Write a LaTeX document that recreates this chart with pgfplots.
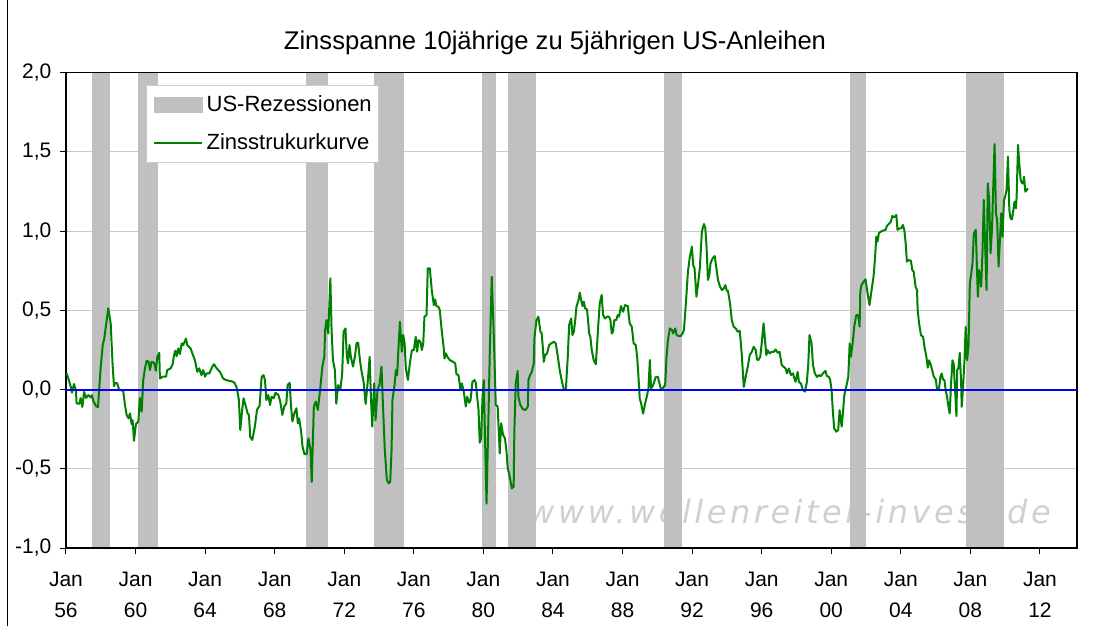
\documentclass[border=0pt]{standalone}
\usepackage{fontspec}
\setmainfont{Liberation Sans}
\newfontfamily\wmfont{DejaVu Sans}
\usepackage{pgfplots}
\pgfplotsset{compat=1.18}
\definecolor{recgray}{RGB}{192,192,192}
\definecolor{linegreen}{RGB}{0,128,0}
\definecolor{gridgray}{RGB}{200,200,200}
\definecolor{wmgray}{RGB}{208,208,208}
\begin{document}
\begin{tikzpicture}
\useasboundingbox (0,0) rectangle (549.5pt,-313pt);
\draw[line width=0.6pt] (3.6pt,0) -- (3.6pt,-313pt);
\node[font=\fontsize{12.8}{15}\selectfont, inner sep=0pt] at (277.5pt,-21.5pt) {Zinsspanne 10jährige zu 5jährigen US-Anleihen};
\node[anchor=base west, inner sep=0pt, text=wmgray, font=\wmfont\fontsize{16}{19}\selectfont\itshape\addfontfeature{LetterSpace=11}] at (264pt,-261.7pt) {www.wellenreiter-invest.de};
\begin{axis}[
  at={(33pt,-274pt)}, anchor=south west,
  scale only axis, width=505.5pt, height=237.65pt,
  xmin=1956, xmax=2014.13, ymin=-1, ymax=2,
  axis line style={line width=0.6pt},
  xtick={1956,1960,1964,1968,1972,1976,1980,1984,1988,1992,1996,2000,2004,2008,2012},
  xticklabels={{Jan\\56},{Jan\\60},{Jan\\64},{Jan\\68},{Jan\\72},{Jan\\76},{Jan\\80},{Jan\\84},{Jan\\88},{Jan\\92},{Jan\\96},{Jan\\00},{Jan\\04},{Jan\\08},{Jan\\12}},
  ytick={-1,-0.5,0,0.5,1,1.5,2},
  yticklabels={{-1,0},{-0,5},{0,0},{0,5},{1,0},{1,5},{2,0}},
  tick align=outside, major tick length=3pt,
  xtick pos=bottom, ytick pos=left,
  ymajorgrids, grid style={gridgray, line width=0.5pt},
  tick style={black, line width=0.5pt},
  xticklabel style={align=center, font=\fontsize{10.5}{15.6}\selectfont, yshift=-5.5pt},
  yticklabel style={font=\fontsize{10.5}{12}\selectfont, xshift=-0.8pt},
  legend cell align=left,
  legend style={at={(0.0791,0.974)}, anchor=north west, draw=black!20, fill=white,
    font=\fontsize{11}{13}\selectfont, inner xsep=3.35pt, inner ysep=5pt,
    row sep=9.7pt, column sep=1.8pt, nodes={inner sep=0pt}},
]
\addplot[fill=recgray, draw=none, legend image code/.code={\fill[recgray] (0pt,-3.9pt) rectangle (24.5pt,3.9pt);}]
  coordinates {(1957.49,-0.995)(1958.53,-0.995)(1958.53,1.995)(1957.49,1.995)} -- cycle;
\addlegendentry{US-Rezessionen}
\addplot[fill=recgray, draw=none, forget plot] coordinates {(1960.14,-0.995)(1961.27,-0.995)(1961.27,1.995)(1960.14,1.995)} -- cycle;
\addplot[fill=recgray, draw=none, forget plot] coordinates {(1969.80,-0.995)(1971.05,-0.995)(1971.05,1.995)(1969.80,1.995)} -- cycle;
\addplot[fill=recgray, draw=none, forget plot] coordinates {(1973.71,-0.995)(1975.43,-0.995)(1975.43,1.995)(1973.71,1.995)} -- cycle;
\addplot[fill=recgray, draw=none, forget plot] coordinates {(1979.92,-0.995)(1980.72,-0.995)(1980.72,1.995)(1979.92,1.995)} -- cycle;
\addplot[fill=recgray, draw=none, forget plot] coordinates {(1981.41,-0.995)(1983.02,-0.995)(1983.02,1.995)(1981.41,1.995)} -- cycle;
\addplot[fill=recgray, draw=none, forget plot] coordinates {(1990.38,-0.995)(1991.41,-0.995)(1991.41,1.995)(1990.38,1.995)} -- cycle;
\addplot[fill=recgray, draw=none, forget plot] coordinates {(2001.08,-0.995)(2002.00,-0.995)(2002.00,1.995)(2001.08,1.995)} -- cycle;
\addplot[fill=recgray, draw=none, forget plot] coordinates {(2007.76,-0.995)(2009.91,-0.995)(2009.91,1.995)(2007.76,1.995)} -- cycle;
\addplot[linegreen, line width=1pt, line join=round, legend image code/.code={\draw[linegreen, line width=1pt] (0pt,0pt) -- (24pt,0pt);}] table {
x y
1956.00 0.09
1956.05 0.10
1956.27 0.02
1956.34 -0.02
1956.46 0.035
1956.57 -0.005
1956.61 -0.087
1956.77 -0.09
1956.84 -0.053
1956.94 -0.11
1957.04 -0.014
1957.15 -0.053
1957.28 -0.035
1957.42 -0.05
1957.49 -0.035
1957.57 -0.07
1957.72 -0.104
1957.84 -0.11
1957.91 0.007
1957.99 0.134
1958.11 0.28
1958.20 0.322
1958.43 0.513
1958.57 0.418
1958.68 0.155
1958.76 0.022
1958.84 0.043
1958.95 0.039
1959.06 -0.003
1959.29 -0.007
1959.39 -0.098
1959.49 -0.161
1959.60 -0.182
1959.68 -0.15
1959.77 -0.218
1959.83 -0.193
1959.91 -0.323
1960.02 -0.218
1960.16 -0.203
1960.25 -0.053
1960.35 -0.14
1960.44 0.06
1960.54 0.134
1960.64 0.182
1960.75 0.176
1960.83 0.123
1960.92 0.176
1961.06 0.17
1961.17 0.119
1961.25 0.207
1961.36 0.232
1961.40 0.07
1961.56 0.081
1961.75 0.081
1961.82 0.123
1962.02 0.134
1962.13 0.16
1962.21 0.217
1962.29 0.245
1962.36 0.211
1962.46 0.26
1962.55 0.224
1962.65 0.291
1962.74 0.281
1962.90 0.322
1962.97 0.281
1963.16 0.26
1963.28 0.224
1963.41 0.186
1963.55 0.112
1963.66 0.134
1963.79 0.091
1963.89 0.123
1964.00 0.081
1964.08 0.102
1964.24 0.102
1964.31 0.119
1964.43 0.148
1964.51 0.16
1964.66 0.134
1964.85 0.112
1965.04 0.07
1965.20 0.06
1965.40 0.055
1965.60 0.05
1965.71 0.039
1965.83 0.007
1965.94 -0.066
1966.02 -0.255
1966.13 -0.128
1966.21 -0.055
1966.32 -0.097
1966.44 -0.15
1966.52 -0.16
1966.59 -0.297
1966.71 -0.318
1966.86 -0.234
1966.98 -0.128
1967.13 -0.103
1967.25 0.08
1967.36 0.091
1967.44 0.06
1967.52 -0.066
1967.63 -0.034
1967.73 -0.097
1967.82 -0.045
1967.94 -0.055
1968.05 -0.02
1968.21 -0.034
1968.32 -0.076
1968.44 -0.16
1968.55 -0.107
1968.67 -0.086
1968.74 0.028
1968.86 0.043
1968.94 -0.107
1969.02 -0.202
1969.13 -0.15
1969.25 -0.118
1969.33 -0.213
1969.40 -0.181
1969.52 -0.265
1969.60 -0.36
1969.71 -0.407
1969.84 -0.407
1969.94 -0.308
1970.06 -0.381
1970.13 -0.582
1970.25 -0.107
1970.36 -0.076
1970.48 -0.128
1970.61 -0.003
1970.74 0.145
1970.85 0.207
1970.90 0.376
1970.98 0.439
1971.08 0.355
1971.20 0.702
1971.27 0.376
1971.35 0.186
1971.46 0.123
1971.54 -0.088
1971.65 0.028
1971.77 -0.003
1971.88 0.102
1971.96 0.365
1972.07 0.386
1972.15 0.207
1972.22 0.165
1972.30 0.281
1972.38 0.207
1972.50 0.145
1972.61 0.207
1972.71 0.295
1972.80 0.295
1972.90 0.186
1973.00 0.112
1973.11 0.049
1973.23 -0.091
1973.34 0.039
1973.46 0.207
1973.53 -0.045
1973.61 -0.234
1973.72 0.039
1973.80 -0.192
1973.91 -0.003
1974.02 0.028
1974.14 0.145
1974.22 -0.088
1974.33 -0.381
1974.45 -0.571
1974.56 -0.592
1974.64 -0.582
1974.72 -0.381
1974.77 -0.066
1974.89 0.028
1974.97 0.123
1975.04 0.091
1975.12 0.27
1975.20 0.428
1975.31 0.239
1975.39 0.344
1975.47 0.291
1975.54 0.133
1975.66 0.06
1975.77 0.165
1975.89 0.249
1976.00 0.249
1976.11 0.333
1976.19 0.239
1976.27 0.312
1976.38 0.302
1976.46 0.249
1976.54 0.291
1976.61 0.46
1976.73 0.47
1976.80 0.765
1976.92 0.765
1977.03 0.628
1977.15 0.533
1977.22 0.569
1977.30 0.527
1977.41 0.523
1977.49 0.502
1977.60 0.376
1977.72 0.26
1977.76 0.196
1977.84 0.228
1977.95 0.203
1978.07 0.186
1978.26 0.175
1978.38 0.165
1978.45 0.097
1978.57 0.091
1978.68 -0.003
1978.76 0.039
1978.87 -0.013
1978.99 -0.107
1979.07 -0.045
1979.18 -0.083
1979.26 -0.066
1979.37 0.049
1979.49 0.06
1979.56 0.043
1979.64 -0.045
1979.72 -0.128
1979.79 -0.335
1979.87 -0.308
1979.95 -0.045
1980.02 0.06
1980.10 -0.34
1980.18 -0.72
1980.29 -0.17
1980.37 0.249
1980.48 0.712
1980.60 0.333
1980.71 -0.097
1980.82 -0.107
1980.94 -0.402
1981.02 -0.213
1981.13 -0.286
1981.24 -0.308
1981.32 -0.381
1981.40 -0.497
1981.47 -0.528
1981.55 -0.571
1981.63 -0.624
1981.74 -0.613
1981.78 -0.255
1981.86 0.039
1981.97 0.118
1982.01 -0.045
1982.12 -0.097
1982.28 -0.125
1982.43 -0.128
1982.55 -0.107
1982.59 0.06
1982.66 0.085
1982.78 0.112
1982.90 0.165
1982.93 0.323
1983.05 0.439
1983.16 0.46
1983.28 0.365
1983.35 0.355
1983.43 0.249
1983.47 0.175
1983.55 0.217
1983.66 0.228
1983.78 0.281
1983.89 0.291
1984.05 0.302
1984.16 0.291
1984.28 0.207
1984.39 0.12
1984.50 0.06
1984.62 0.0
1984.74 -0.003
1984.85 0.207
1984.93 0.407
1985.05 0.449
1985.12 0.344
1985.20 0.365
1985.28 0.439
1985.35 0.523
1985.47 0.565
1985.54 0.611
1985.62 0.565
1985.70 0.527
1985.77 0.555
1985.85 0.512
1985.96 0.506
1986.08 0.354
1986.15 0.333
1986.23 0.249
1986.34 0.186
1986.46 0.16
1986.53 0.27
1986.61 0.418
1986.69 0.544
1986.80 0.597
1986.88 0.47
1987.00 0.449
1987.11 0.46
1987.22 0.46
1987.30 0.439
1987.38 0.354
1987.45 0.365
1987.53 0.439
1987.64 0.439
1987.72 0.47
1987.80 0.46
1987.91 0.527
1988.03 0.491
1988.14 0.533
1988.30 0.527
1988.41 0.418
1988.53 0.397
1988.64 0.291
1988.76 0.281
1988.84 0.207
1988.91 0.091
1988.99 -0.057
1989.07 -0.088
1989.18 -0.152
1989.30 -0.088
1989.41 -0.036
1989.49 0.006
1989.57 0.186
1989.64 0.006
1989.76 0.028
1989.91 0.08
1990.03 0.08
1990.10 0.049
1990.22 -0.003
1990.34 0.013
1990.45 0.028
1990.53 0.207
1990.61 0.312
1990.72 0.386
1990.84 0.376
1990.91 0.354
1991.03 0.386
1991.11 0.344
1991.22 0.338
1991.34 0.338
1991.45 0.354
1991.53 0.376
1991.60 0.481
1991.68 0.607
1991.76 0.744
1991.87 0.839
1991.99 0.902
1992.06 0.786
1992.14 0.765
1992.25 0.586
1992.37 0.692
1992.45 0.776
1992.56 0.997
1992.68 1.045
1992.76 1.018
1992.83 0.902
1992.91 0.692
1992.99 0.723
1993.06 0.797
1993.18 0.829
1993.30 0.843
1993.37 0.786
1993.49 0.692
1993.60 0.65
1993.72 0.628
1993.83 0.639
1993.91 0.66
1993.99 0.624
1994.06 0.624
1994.18 0.544
1994.28 0.439
1994.39 0.397
1994.51 0.386
1994.62 0.365
1994.74 0.371
1994.85 0.228
1994.97 0.017
1995.08 0.08
1995.20 0.144
1995.31 0.217
1995.43 0.238
1995.54 0.27
1995.66 0.249
1995.73 0.19
1995.81 0.186
1995.92 0.207
1996.00 0.291
1996.11 0.418
1996.19 0.312
1996.27 0.217
1996.34 0.249
1996.46 0.228
1996.57 0.238
1996.69 0.238
1996.80 0.253
1996.92 0.232
1997.03 0.238
1997.15 0.155
1997.26 0.144
1997.38 0.133
1997.45 0.102
1997.57 0.133
1997.68 0.091
1997.80 0.102
1997.88 0.07
1997.95 0.049
1998.07 0.112
1998.14 0.049
1998.26 0.038
1998.37 -0.003
1998.49 -0.013
1998.60 0.049
1998.68 0.165
1998.75 0.344
1998.87 0.291
1998.95 0.155
1999.06 0.102
1999.18 0.08
1999.29 0.091
1999.41 0.085
1999.52 0.102
1999.67 0.118
1999.75 0.085
1999.87 0.08
1999.94 0.059
2000.02 -0.003
2000.10 -0.15
2000.17 -0.245
2000.29 -0.266
2000.40 -0.255
2000.48 -0.13
2000.60 -0.234
2000.67 -0.15
2000.75 -0.036
2000.86 0.017
2000.98 0.08
2001.06 0.291
2001.13 0.207
2001.25 0.312
2001.32 0.397
2001.44 0.47
2001.55 0.47
2001.63 0.397
2001.67 0.618
2001.74 0.66
2001.86 0.681
2001.97 0.696
2002.09 0.607
2002.20 0.533
2002.32 0.628
2002.43 0.713
2002.51 0.818
2002.59 0.966
2002.66 0.934
2002.74 0.987
2002.85 0.997
2002.97 1.003
2003.12 1.008
2003.20 1.033
2003.31 1.045
2003.43 1.06
2003.51 1.096
2003.62 1.087
2003.74 1.102
2003.81 1.008
2003.93 1.018
2004.03 1.018
2004.12 1.039
2004.20 1.008
2004.28 0.923
2004.35 0.807
2004.43 0.818
2004.58 0.813
2004.66 0.754
2004.74 0.744
2004.85 0.649
2004.93 0.628
2004.97 0.502
2005.05 0.417
2005.16 0.343
2005.28 0.333
2005.36 0.27
2005.47 0.207
2005.55 0.139
2005.62 0.185
2005.70 0.164
2005.78 0.133
2005.89 0.084
2006.01 0.063
2006.08 0.006
2006.20 0.006
2006.28 0.084
2006.35 0.101
2006.43 0.063
2006.51 0.059
2006.58 -0.004
2006.66 -0.046
2006.74 -0.109
2006.81 -0.151
2006.89 0.038
2006.97 0.185
2007.04 0.164
2007.12 -0.004
2007.20 -0.168
2007.24 0.122
2007.31 0.133
2007.39 0.232
2007.47 0.038
2007.50 -0.109
2007.58 0.017
2007.66 0.185
2007.73 0.396
2007.81 0.185
2007.89 0.27
2007.97 0.67
2008.04 0.723
2008.12 0.797
2008.20 0.986
2008.31 1.008
2008.43 0.586
2008.50 0.754
2008.62 0.649
2008.70 0.881
2008.77 1.197
2008.85 0.902
2008.93 0.628
2009.00 1.302
2009.08 1.197
2009.16 0.86
2009.24 1.008
2009.31 1.26
2009.39 1.55
2009.47 1.112
2009.54 1.07
2009.62 0.776
2009.70 0.944
2009.77 1.112
2009.85 0.965
2009.93 1.197
2010.00 1.218
2010.08 1.26
2010.16 1.47
2010.24 1.133
2010.31 1.08
2010.39 1.074
2010.47 1.133
2010.54 1.186
2010.62 1.144
2010.66 1.218
2010.74 1.544
2010.81 1.428
2010.89 1.323
2010.97 1.302
2011.05 1.302
2011.08 1.344
2011.16 1.249
2011.24 1.26
2011.31 1.27
};
\addlegendentry{Zinsstrukurkurve}
\addplot[blue, line width=1pt, forget plot] coordinates {(1956,0)(2014.13,0)};
\end{axis}
\end{tikzpicture}
\end{document}
